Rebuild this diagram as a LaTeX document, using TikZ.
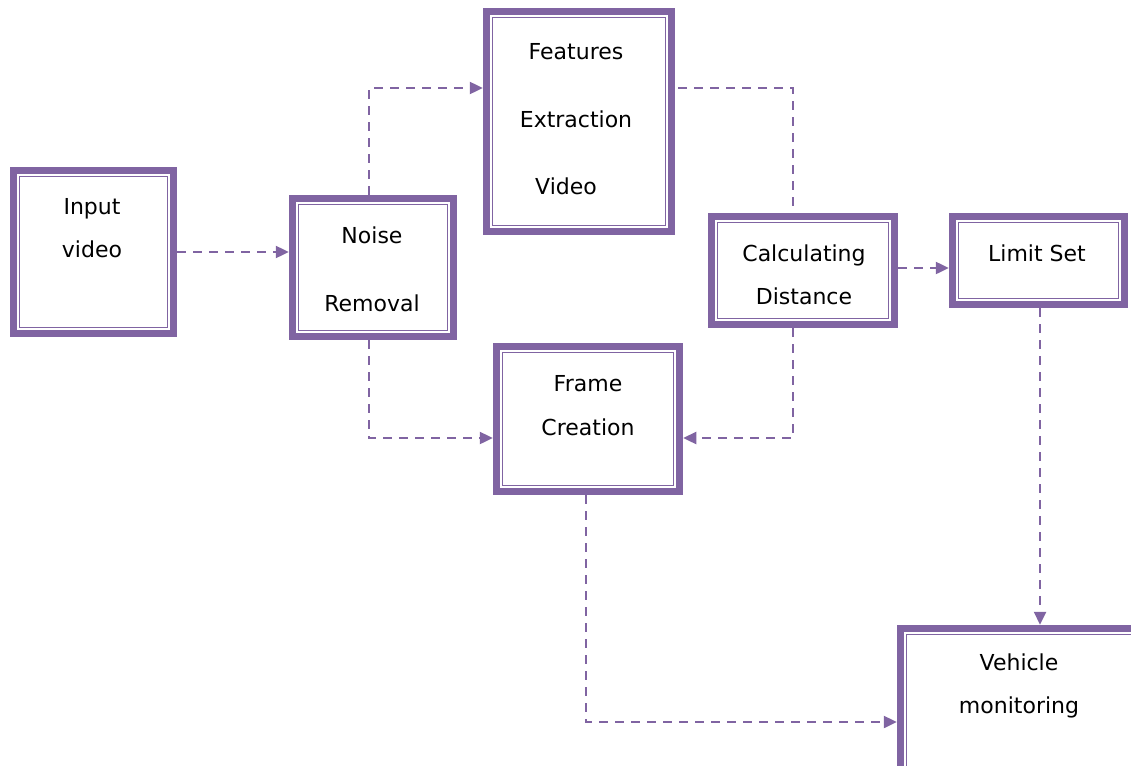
\documentclass[tikz,border=0pt]{standalone}
\usepackage{fontspec}
\setmainfont{DejaVu Sans}
\usetikzlibrary{arrows.meta}
\definecolor{boxpurple}{RGB}{128,100,162}
\begin{document}
\begin{tikzpicture}[x=1pt, y=-1pt, >={Triangle[length=13pt,width=12pt]},
	box/.style={draw=boxpurple, line width=7.5pt, inner sep=0pt,
		path picture={\draw[boxpurple, line width=1.5pt] ([shift={(6pt,-6pt)}]path picture bounding box.north west) rectangle ([shift={(-6pt,6pt)}]path picture bounding box.south east);}},
	lbl/.style={anchor=north, inner sep=0pt, align=center, font=\fontsize{22}{43}\selectfont},
	flow/.style={boxpurple, line width=2.4pt, dash pattern=on 9pt off 7pt}]
	\useasboundingbox (0,0) rectangle (1131,765);
	\clip (0,0) rectangle (1131,765);
	% boxes: name/x/y/width/height
	\foreach \n/\x/\y/\w/\h in {input/93.5/252/160/163, noise/373/267.5/161/138, feat/579/121.5/185/220, calc/803/270.5/183/108, limit/1038.5/260.5/172/88, frame/588/419/183/145, vehicle/1030/710/259/163}{
		\node[box, minimum width=\w, minimum height=\h] (\n) at (\x,\y) {};
	}
	% texts
	\foreach \n/\x/\y/\t in {input/92/198/{Input\\video}, noise/372/227/{Noise\\[25pt]Removal}, feat/576/43/{Features\\[25pt]Extraction\\[24pt]\hspace*{-20pt}Video}, calc/804/245/{Calculating\\Distance}, limit/1037/245/{Limit Set}, frame/588/375/{Frame\\[1pt]Creation}, vehicle/1019/654/{Vehicle\\monitoring}}{
		\node[lbl] (\n-t) at (\x,\y) {\t};
	}
	% connectors
	\draw[flow,->] (input) -- (input -| noise.west);
	\draw[flow,->] ([xshift=-4pt]noise.north) |- ([yshift=33.5pt]feat.west);
	\draw[flow, shorten <=3pt, shorten >=6pt] ([yshift=33.5pt]feat.east) -| ([xshift=-10pt]calc.north);
	\draw[flow,->] ([yshift=2.5pt]calc.east) -- ([yshift=2.5pt]calc.east -| limit.west);
	\draw[flow,->] ([xshift=-4pt]noise.south) |- ([yshift=-19pt]frame.west);
	\draw[flow,->] ([xshift=-10pt]calc.south) |- ([yshift=-19pt]frame.east);
	\draw[flow,->] ([xshift=1.5pt]limit.south) -- ([xshift=1.5pt]limit.south |- vehicle.north);
	\draw[flow,->] ([xshift=-2pt]frame.south) |- ([yshift=-12pt]vehicle.west);
\end{tikzpicture}
\end{document}
